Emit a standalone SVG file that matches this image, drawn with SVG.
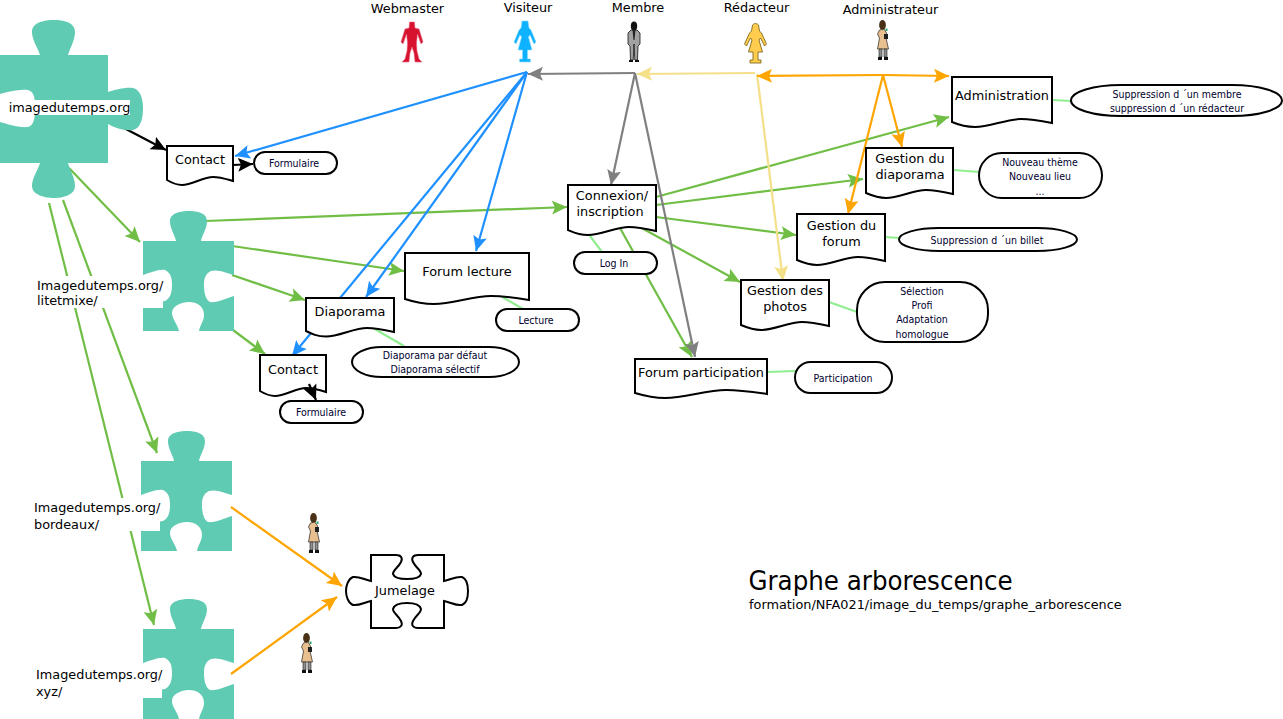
<svg xmlns="http://www.w3.org/2000/svg" xmlns:xlink="http://www.w3.org/1999/xlink" width="1283" height="719" viewBox="0 0 1283 719">
<style>
text{font-family:"DejaVu Sans","Liberation Sans",sans-serif;font-size:12.85px;fill:#000;text-anchor:middle}
.s{font-family:"DejaVu Sans Condensed","DejaVu Sans",sans-serif;font-size:10.5px;fill:#00002e}
.l{text-anchor:start}
.doc,.pill,.jig{fill:#fff;stroke:#000;stroke-width:2}
.pz{fill:#5fcbb2}
.mask{fill:#fff}
.c{fill:none;stroke-width:2.2}
.g{stroke:#70be45}.b{stroke:#1e90ff}.k{stroke:#000}.y{stroke:#808080}.w{stroke:#f5e08a}.o{stroke:#ffa500}.t{stroke:#90ee90}
</style>
<defs>
<marker id="ag" markerUnits="userSpaceOnUse" markerWidth="16" markerHeight="16" viewBox="0 -8 16 16" refX="15" refY="0" orient="auto"><path d="M0,-7L15,0L0,7L3,0Z" fill="#70be45"/></marker>
<marker id="ab" markerUnits="userSpaceOnUse" markerWidth="16" markerHeight="16" viewBox="0 -8 16 16" refX="15" refY="0" orient="auto"><path d="M0,-7L15,0L0,7L3,0Z" fill="#1e90ff"/></marker>
<marker id="ak" markerUnits="userSpaceOnUse" markerWidth="16" markerHeight="16" viewBox="0 -8 16 16" refX="15" refY="0" orient="auto"><path d="M0,-7L15,0L0,7L3,0Z" fill="#000"/></marker>
<marker id="ay" markerUnits="userSpaceOnUse" markerWidth="16" markerHeight="16" viewBox="0 -8 16 16" refX="15" refY="0" orient="auto"><path d="M0,-7L15,0L0,7L3,0Z" fill="#808080"/></marker>
<marker id="aw" markerUnits="userSpaceOnUse" markerWidth="16" markerHeight="16" viewBox="0 -8 16 16" refX="15" refY="0" orient="auto"><path d="M0,-7L15,0L0,7L3,0Z" fill="#f5e08a"/></marker>
<marker id="ao" markerUnits="userSpaceOnUse" markerWidth="16" markerHeight="16" viewBox="0 -8 16 16" refX="15" refY="0" orient="auto"><path d="M0,-7L15,0L0,7L3,0Z" fill="#ffa500"/></marker>
<path id="piece" class="pz" d="M0,0H33C32,-6 27,-12 27,-20C27,-28 38,-30 46,-30C54,-30 64,-28 64,-20C64,-12 59,-6 58,0H91V34C84,32 75,28 68,30C62,33 61,38 61,44C61,50 62,58 67,61C74,62 84,57 91,55V90H56C57,84 61,80 61,74C61,65 54,61 46,61C38,61 29,65 29,72C29,78 35,84 36,90H0V57C7,59 15,62 22,60C28,57 29,50 29,44C29,37 28,32 22,29C15,28 7,32 0,34Z"/>
<g id="admin-fig">
<ellipse cx="-0.5" cy="5" rx="3.4" ry="5" fill="#4a3016"/>
<path d="M-5.5,29L-3.5,18L-5.5,14L-3.5,10L1,9L3.5,13L3,18L5.5,29Z" fill="#e8bf8e" stroke="#222" stroke-width="0.7"/>
<path d="M-4,29H-1V37H-4ZM1,29H4V37H1Z" fill="#8d8d8d" stroke="#222" stroke-width="0.6"/>
<path d="M-5,37H-1V40H-5ZM1,37H5V40H1Z" fill="#111"/>
<rect x="1" y="14" width="4" height="5" fill="#222"/>
<rect x="2.5" y="8.5" width="2" height="2.5" fill="#2fa56a"/>
</g>
</defs>

<g id="connectors">
<path class="c k" marker-end="url(#ak)" d="M124,128L166,150"/>
<path class="c k" marker-end="url(#ak)" d="M233,165L253,164"/>
<path class="c g" marker-end="url(#ag)" d="M69,168L140,242"/>
<path class="c g" marker-end="url(#ag)" d="M63,200L157,453"/>
<path class="c g" marker-end="url(#ag)" d="M49,203L154,625"/>
<path class="c g" marker-end="url(#ag)" d="M205,221L567,207"/>
<path class="c g" marker-end="url(#ag)" d="M232,246L404,271"/>
<path class="c g" marker-end="url(#ag)" d="M232,275L305,300"/>
<path class="c g" marker-end="url(#ag)" d="M233,330L265,354"/>
<path class="c g" marker-end="url(#ag)" d="M656,197L949,117"/>
<path class="c g" marker-end="url(#ag)" d="M656,205L863,179"/>
<path class="c g" marker-end="url(#ag)" d="M656,217L796,235"/>
<path class="c g" marker-end="url(#ag)" d="M638,226L740,282"/>
<path class="c g" marker-end="url(#ag)" d="M620,228L692,357"/>
<path class="c b" marker-end="url(#ab)" d="M527,72L235,156"/>
<path class="c b" marker-end="url(#ab)" d="M527,72L292,356"/>
<path class="c b" marker-end="url(#ab)" d="M527,72L366,297"/>
<path class="c b" marker-end="url(#ab)" d="M527,72L476,251"/>
<path class="c y" marker-end="url(#ay)" d="M635,73L528,74"/>
<path class="c y" marker-end="url(#ay)" d="M635,73L611,185"/>
<path class="c y" marker-end="url(#ay)" d="M635,73L695,357"/>
<path class="c w" marker-end="url(#aw)" d="M755,73L637,74"/>
<path class="c w" marker-end="url(#aw)" d="M757,74L783,281"/>
<path class="c o" marker-end="url(#ao)" d="M883,75L757,76"/>
<path class="c o" marker-end="url(#ao)" d="M883,75L949,76"/>
<path class="c o" marker-end="url(#ao)" d="M883,75L902,147"/>
<path class="c o" marker-end="url(#ao)" d="M883,75L848,214"/>
<path class="c o" marker-end="url(#ao)" d="M231,507L342,586"/>
<path class="c o" marker-end="url(#ao)" d="M231,674L337,597"/>
<path class="c t" d="M590,236L602,252"/>
<path class="c t" d="M373,328L404,346"/>
<path class="c t" d="M492,291L523,309"/>
<path class="c t" d="M1052,100L1071,101"/>
<path class="c t" d="M953,170L980,172"/>
<path class="c t" d="M885,237L900,238"/>
<path class="c t" d="M829,302L857,312"/>
<path class="c t" d="M767,372L796,371"/>
</g>

<g id="site-root">
<path class="pz" d="M0,55H40C38,48 32,40 32,32C32,22 45,20 54,20C63,20 75,22 75,32C75,40 70,48 68,55H108V92C115,90 125,87 133,88C141,90 143,100 143,108C143,118 141,128 133,130C125,131 115,128 108,124V163H68C70,170 75,178 75,186C75,195 63,198 54,198C45,198 32,195 32,186C32,178 38,170 40,163H0V122C8,124 18,128 28,127C35,125 35,115 35,108C35,100 35,92 28,90C18,89 8,92 0,94Z"/>
<rect class="mask" x="9" y="100" width="121" height="15"/>
<text x="69.5" y="112">imagedutemps.org</text>
</g>
<g id="site-litetmixe">
<use xlink:href="#piece" href="#piece" x="143" y="241"/>
<rect class="mask" x="37" y="276" width="126" height="32"/>
<text class="l" x="37" y="290">Imagedutemps.org/</text>
<text class="l" x="37" y="305">litetmixe/</text>
</g>
<g id="site-bordeaux">
<use xlink:href="#piece" href="#piece" x="141" y="461"/>
<rect class="mask" x="34" y="498" width="126" height="33"/>
<text class="l" x="34" y="512">Imagedutemps.org/</text>
<text class="l" x="34" y="529">bordeaux/</text>
</g>
<g id="site-xyz">
<use xlink:href="#piece" href="#piece" x="143" y="629"/>
<rect class="mask" x="36" y="665" width="126" height="33"/>
<text class="l" x="36" y="679">Imagedutemps.org/</text>
<text class="l" x="36" y="696">xyz/</text>
</g>

<g id="jumelage">
<path class="jig" d="M371,555H396C401,555 403,558 401,562C398,568 393,570 393,574C394,578 400,579 407,579C414,579 420,578 421,574C421,570 416,568 413,562C411,558 413,555 418,555H444V581C450,580 456,576 462,577C467,579 468,586 468,591C468,596 467,603 462,605C456,606 450,602 444,601V628H418C413,628 411,625 413,621C416,615 421,613 421,609C420,605 414,603 407,603C400,603 394,605 393,609C393,613 398,615 401,621C403,625 401,628 396,628H371V601C365,602 359,606 353,605C348,603 346,596 346,591C346,586 348,579 353,577C359,576 365,580 371,581Z"/>
<text x="405" y="595">Jumelage</text>
</g>

<g id="actor-webmaster">
<text x="407.5" y="13">Webmaster</text>
<path transform="translate(412,21)" fill="#d7122f" stroke="#e8718a" stroke-width="0.6" d="M-2.5,1L2.5,1L3,7L7,8L11,21L9,23L5.5,13L4.5,22L5,30L7,38L10,41L3,41L2,32L0,26L-2,32L-3,41L-10,41L-7,38L-5,30L-4.5,22L-5.5,13L-9,23L-11,21L-7,8L-3,7Z"/>
</g>
<g id="actor-visiteur">
<text x="528" y="12">Visiteur</text>
<path transform="translate(525,21)" fill="#0fb2ff" stroke="#8adcff" stroke-width="0.6" d="M-3,0H3L4,7L6,9L11,21L9,23L5,14L3.5,16L7,29H2.5V38H5.5V41H-5.5V38H-2.5V29H-7L-3.5,16L-5,14L-9,23L-11,21L-6,9L-4,7Z"/>
</g>
<g id="actor-membre">
<text x="638" y="12">Membre</text>
<g transform="translate(634,22)">
<path fill="#a2a2a2" stroke="#111" stroke-width="0.8" d="M-3,8L3,8L6,11L6,22L4,24L3.5,38H0.8L0,22L-0.8,38H-3.5L-4,24L-6,22L-6,11Z"/>
<ellipse cx="0" cy="4" rx="3.2" ry="4.6" fill="#111"/>
<path d="M-1.5,8H1.5L0.5,18H-0.5Z" fill="#222"/>
<path d="M-5,38H-1V40H-5ZM1,38H5V40H1Z" fill="#111"/>
</g>
</g>
<g id="actor-redacteur">
<text x="756.5" y="12">Rédacteur</text>
<path transform="translate(755.5,24)" fill="#ffcc4d" stroke="#6e5a10" stroke-width="0.8" d="M-3,1C-1,-1 1,-1 3,1L4,7L6,9L11,20L9,22L5,14L3.5,16L7,28H2.5V36H5.5V39H-5.5V36H-2.5V28H-7L-3.5,16L-5,14L-9,22L-11,20L-6,9L-4,7Z"/>
</g>
<g id="actor-administrateur">
<text x="890.5" y="14">Administrateur</text>
<use xlink:href="#admin-fig" href="#admin-fig" x="883" y="20"/>
</g>
<g id="admin-bordeaux"><use xlink:href="#admin-fig" href="#admin-fig" x="314" y="513"/></g>
<g id="admin-xyz"><use xlink:href="#admin-fig" href="#admin-fig" x="307" y="633"/></g>

<g id="contact-1"><path class="doc" d="M167,146H233V181C226,179 220,177 213,177C203,177 192,185 182,185C176,185 172,183 167,180Z"/><text x="200" y="164">Contact</text></g>
<g id="formulaire-1"><rect class="pill" x="254" y="152" width="83" height="22" rx="11"/><text class="s" x="294" y="167">Formulaire</text></g>
<g id="contact-2"><path class="doc" d="M260,355H326V392C320,390 313,388 306,388C296,388 285,396 275,396C269,396 265,394 260,391Z"/><text x="293" y="374">Contact</text></g>
<g id="formulaire-2"><rect class="pill" x="280" y="401" width="83" height="22" rx="11"/><text class="s" x="321" y="416">Formulaire</text></g>
<g id="diaporama"><path class="doc" d="M306,298H394V332C385,330 376,328 367,328C354,328 339,336.5 326,336.5C317,336.5 312,334 306,331Z"/><text x="350" y="316">Diaporama</text></g>
<g id="diaporama-opts"><rect class="pill" x="352" y="347" width="167" height="30" rx="30" ry="15"/><text class="s" x="435" y="359">Diaporama par défaut</text><text class="s" x="435" y="373">Diaporama sélectif</text></g>
<g id="forum-lecture"><path class="doc" d="M405,253H529V300C517,298 504,296 491,296C472,296 453,304 434,304C424,304 414,302 405,299Z"/><text x="467" y="276">Forum lecture</text></g>
<g id="lecture"><rect class="pill" x="496" y="309" width="83" height="22" rx="11"/><text class="s" x="536" y="324">Lecture</text></g>
<g id="connexion"><path class="doc" d="M568,185H656V231C647,229 638,227 629,227C616,227 601,235 588,235C579,235 575,233 568,230Z"/><text x="612" y="200">Connexion/</text><text x="610" y="216">inscription</text></g>
<g id="login"><rect class="pill" x="574" y="252" width="83" height="22" rx="11"/><text class="s" x="614" y="267">Log In</text></g>
<g id="gestion-photos"><path class="doc" d="M741,280H829V326C820,324 811,322 802,322C789,322 774,330 761,330C753,330 748,328 741,325Z"/><text x="785" y="295">Gestion des</text><text x="785" y="311">photos</text></g>
<g id="photos-opts"><rect class="pill" x="857" y="282" width="131" height="60" rx="28"/><text class="s" x="922" y="295">Sélection</text><text class="s" x="922" y="309">Profi</text><text class="s" x="922" y="323">Adaptation</text><text class="s" x="922" y="338">homologue</text></g>
<g id="forum-participation"><path class="doc" d="M635,359H767V394C754,392 740,390 726,390C706,390 685,398 665,398C655,398 645,396 635,393Z"/><text x="701" y="377">Forum participation</text></g>
<g id="participation"><rect class="pill" x="795" y="362" width="97" height="31" rx="15.5"/><text class="s" x="843" y="382">Participation</text></g>
<g id="gestion-forum"><path class="doc" d="M797,214H885V261C876,259 867,257 858,257C845,257 830,265 817,265C809,265 804,263 797,260Z"/><text x="841.5" y="230">Gestion du</text><text x="841.5" y="246">forum</text></g>
<g id="billet"><rect class="pill" x="899" y="228" width="178" height="23" rx="40" ry="11.5"/><text class="s" x="987" y="244">Suppression d ´un billet</text></g>
<g id="gestion-diaporama"><path class="doc" d="M866,148H953V194C944,192 935,190 926,190C913,190 899,198 886,198C878,198 873,196 866,193Z"/><text x="910" y="163">Gestion du</text><text x="910" y="179">diaporama</text></g>
<g id="nouveau"><rect class="pill" x="979" y="153" width="123" height="45" rx="22.5"/><text class="s" x="1040" y="166">Nouveau thème</text><text class="s" x="1040" y="180">Nouveau lieu</text><text class="s" x="1040" y="195">...</text></g>
<g id="administration"><path class="doc" d="M952,77H1052V123C1042,121 1031,119 1021,119C1006,119 990,127 975,127C967,127 959,125 952,122Z"/><text x="1002" y="100">Administration</text></g>
<g id="suppressions"><rect class="pill" x="1071" y="85" width="211" height="31" rx="50" ry="15.5"/><text class="s" x="1177" y="98">Suppression d ´un membre</text><text class="s" x="1177" y="112">suppression d ´un rédacteur</text></g>

<g id="connectors-over">
<path class="c k" marker-end="url(#ak)" d="M309,384L316,400"/>
</g>

<g id="title">
<text class="l" style="font-family:'DejaVu Sans Condensed','DejaVu Sans',sans-serif;font-size:27.3px" x="748.5" y="590">Graphe arborescence</text>
<text class="l" x="749" y="609">formation/NFA021/image_du_temps/graphe_arborescence</text>
</g>
</svg>
